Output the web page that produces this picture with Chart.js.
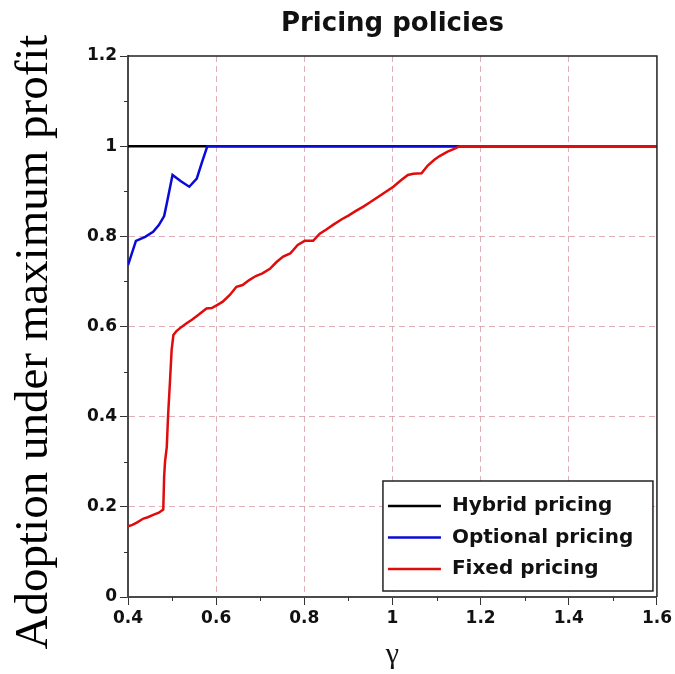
<!DOCTYPE html>
<html>
<head>
<meta charset="utf-8">
<script src="https://cdn.jsdelivr.net/npm/chart.js@4.4.1/dist/chart.umd.min.js"></script>
<style>
    html, body { margin: 0; padding: 0; background: #ffffff; }
    #wrap { width: 675px; height: 674px; }
</style>
</head>
<body>
<div id="wrap"><canvas id="chart" width="675" height="674"></canvas></div>
<script>
// Series
const hybridX = [0.4, 1.6];
const hybridY = [1, 1];

const optionalX = [0.40, 0.418, 0.439, 0.457, 0.470, 0.482, 0.488, 0.501, 0.520, 0.539, 0.556, 0.567, 0.580, 1.6];
const optionalY = [0.736, 0.790, 0.799, 0.810, 0.825, 0.845, 0.873, 0.936, 0.922, 0.910, 0.928, 0.962, 1.0, 1.0];

const fixedX = [0.400, 0.410, 0.420, 0.435, 0.445, 0.457, 0.470, 0.480, 0.482, 0.484, 0.488, 0.491, 0.495, 0.499,
    0.503, 0.510, 0.520, 0.533, 0.545, 0.560, 0.578, 0.590, 0.601, 0.615, 0.631, 0.646, 0.660, 0.675, 0.690,
    0.705, 0.722, 0.737, 0.752, 0.768, 0.785, 0.801, 0.820, 0.835, 0.850, 0.866, 0.885, 0.900, 0.918, 0.934,
    0.950, 0.968, 0.985, 1.002, 1.020, 1.035, 1.047, 1.066, 1.080, 1.095, 1.107, 1.125, 1.140, 1.153, 1.6];
const fixedY = [0.157, 0.160, 0.165, 0.174, 0.177, 0.182, 0.187, 0.194, 0.267, 0.300, 0.333, 0.404, 0.474, 0.548,
    0.581, 0.590, 0.598, 0.607, 0.615, 0.626, 0.640, 0.641, 0.647, 0.655, 0.670, 0.688, 0.692, 0.703, 0.712,
    0.718, 0.728, 0.743, 0.755, 0.762, 0.781, 0.790, 0.790, 0.806, 0.815, 0.826, 0.838, 0.846, 0.857, 0.866,
    0.876, 0.888, 0.899, 0.910, 0.925, 0.936, 0.939, 0.940, 0.957, 0.970, 0.978, 0.988, 0.994, 1.0, 1.0];

const seriesLabels = ['Hybrid pricing', 'Optional pricing', 'Fixed pricing'];

const xTickValues = [0.4, 0.6, 0.8, 1, 1.2, 1.4, 1.6];
const yTickValues = [0, 0.2, 0.4, 0.6, 0.8, 1, 1.2];
const xMinorTicks = [0.5, 0.7, 0.9, 1.1, 1.3, 1.5];
const yMinorTicks = [0.1, 0.3, 0.5, 0.7, 0.9, 1.1];

const COLORS = {
    hybrid: '#000000',
    optional: '#0a0ad8',
    fixed: '#e00c0c',
    grid: 'rgba(214, 150, 160, 0.75)',
    axis: '#4a4a4a',
    text: '#111111'
};

const SANS = '"DejaVu Sans", Verdana, sans-serif';
const SERIF = '"Liberation Serif", "Times New Roman", serif';
const TICK_FONT = { family: SANS, size: 17, weight: 'bold' };

function toPoints(xs, ys) {
    return xs.map((x, i) => ({ x: x, y: ys[i] }));
}

/**
 * Title over the plot, frame, minor ticks, in-plot legend and the serif y title
 */
const extrasPlugin = {
    id: 'extras',
    afterDraw(chart) {
        const ctx = chart.ctx;
        const area = chart.chartArea;
        const xs = chart.scales.x;
        const ys = chart.scales.y;
        ctx.save();

        // title centred over the plot area
        ctx.font = 'bold 26px ' + SANS;
        ctx.fillStyle = COLORS.text;
        ctx.textAlign = 'center';
        ctx.textBaseline = 'alphabetic';
        ctx.fillText('Pricing policies', (area.left + area.right) / 2, 31);

        // top / right frame
        ctx.strokeStyle = '#222';
        ctx.lineWidth = 1.5;
        ctx.beginPath();
        ctx.moveTo(area.left, area.top);
        ctx.lineTo(area.right, area.top);
        ctx.lineTo(area.right, area.bottom);
        ctx.stroke();

        // minor ticks
        ctx.strokeStyle = '#333';
        ctx.lineWidth = 1;
        ctx.beginPath();
        xMinorTicks.forEach(v => {
            const px = Math.round(xs.getPixelForValue(v)) + 0.5;
            ctx.moveTo(px, area.bottom);
            ctx.lineTo(px, area.bottom + 4);
        });
        yMinorTicks.forEach(v => {
            const py = Math.round(ys.getPixelForValue(v)) + 0.5;
            ctx.moveTo(area.left, py);
            ctx.lineTo(area.left - 4, py);
        });
        ctx.stroke();

        // legend box in the lower right corner
        const boxW = 270, boxH = 110;
        const bx = area.right - 4 - boxW;
        const by = area.bottom - 6 - boxH;
        ctx.fillStyle = '#ffffff';
        ctx.fillRect(bx, by, boxW, boxH);
        ctx.strokeStyle = '#222';
        ctx.lineWidth = 1.5;
        ctx.strokeRect(bx, by, boxW, boxH);
        ctx.font = 'bold 20px ' + SANS;
        ctx.textBaseline = 'middle';
        ctx.textAlign = 'left';
        chart.data.datasets.forEach((ds, i) => {
            const rowY = by + 25 + i * 31.5;
            ctx.strokeStyle = ds.borderColor;
            ctx.lineWidth = 2.5;
            ctx.beginPath();
            ctx.moveTo(bx + 5, rowY);
            ctx.lineTo(bx + 58, rowY);
            ctx.stroke();
            ctx.fillStyle = COLORS.text;
            ctx.fillText(ds.label, bx + 69, rowY);
        });

        // y axis title, large serif
        ctx.translate(47, 342);
        ctx.rotate(-Math.PI / 2);
        ctx.font = '47px ' + SERIF;
        ctx.fillStyle = '#000';
        ctx.textAlign = 'center';
        ctx.textBaseline = 'alphabetic';
        ctx.fillText('Adoption under maximum profit', 0, 0);

        ctx.restore();
    }
};

function isEdge(scale, value) {
    return value === scale.min || value === scale.max;
}

const ctx = document.getElementById('chart').getContext('2d');

new Chart(ctx, {
    type: 'line',
    data: {
        datasets: [
            {
                label: seriesLabels[0],
                data: toPoints(hybridX, hybridY),
                borderColor: COLORS.hybrid,
                borderWidth: 2.5,
                pointRadius: 0,
                order: 3
            },
            {
                label: seriesLabels[1],
                data: toPoints(optionalX, optionalY),
                borderColor: COLORS.optional,
                borderWidth: 2.5,
                pointRadius: 0,
                order: 2
            },
            {
                label: seriesLabels[2],
                data: toPoints(fixedX, fixedY),
                borderColor: COLORS.fixed,
                borderWidth: 2.5,
                pointRadius: 0,
                order: 1
            }
        ]
    },
    options: {
        responsive: false,
        animation: false,
        devicePixelRatio: 1,
        layout: { padding: { left: 0, right: 18, top: 56, bottom: 0 } },
        plugins: {
            legend: { display: false },
            tooltip: { enabled: false },
            title: { display: false }
        },
        scales: {
            x: {
                type: 'linear',
                min: 0.4,
                max: 1.6,
                afterBuildTicks: s => { s.ticks = xTickValues.map(v => ({ value: v })); },
                afterFit: s => { s.height = 77; },
                ticks: {
                    color: COLORS.text,
                    font: TICK_FONT,
                    padding: 3,
                    maxRotation: 0,
                    callback: v => String(v)
                },
                grid: {
                    color: c => isEdge(c.scale, c.tick.value) ? 'rgba(0,0,0,0)' : COLORS.grid,
                    lineWidth: 1,
                    tickColor: '#333',
                    tickLength: 8,
                    tickWidth: 1
                },
                border: { display: true, color: COLORS.axis, width: 2, dash: [6, 4] },
                title: {
                    display: true,
                    text: 'γ',
                    color: COLORS.text,
                    font: { family: SERIF, size: 30 },
                    padding: { top: 0, bottom: 1 }
                }
            },
            y: {
                type: 'linear',
                min: 0,
                max: 1.2,
                afterBuildTicks: s => { s.ticks = yTickValues.map(v => ({ value: v })); },
                afterFit: s => { s.width = 128; },
                ticks: {
                    color: COLORS.text,
                    font: TICK_FONT,
                    padding: 3,
                    callback: v => String(v)
                },
                grid: {
                    color: c => isEdge(c.scale, c.tick.value) ? 'rgba(0,0,0,0)' : COLORS.grid,
                    lineWidth: 1,
                    tickColor: '#333',
                    tickLength: 8,
                    tickWidth: 1
                },
                border: { display: true, color: COLORS.axis, width: 2, dash: [6, 4] }
            }
        }
    },
    plugins: [extrasPlugin]
});
</script>
</body>
</html>
